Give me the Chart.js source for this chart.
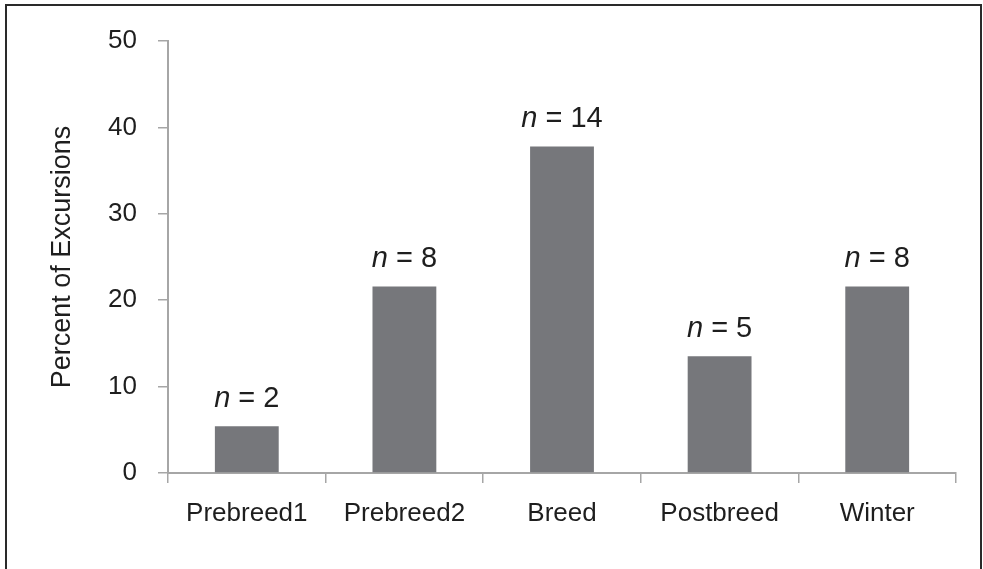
<!DOCTYPE html>
<html>
<head>
<meta charset="utf-8">
<script src="https://cdn.jsdelivr.net/npm/chart.js@4.4.1/dist/chart.umd.min.js"></script>
<style>
  html, body { margin: 0; padding: 0; background: #fff; }
  #wrap { width: 983px; height: 569px; position: relative; }
</style>
</head>
<body>
<div id="wrap"><canvas id="c" width="983" height="569"></canvas></div>
<script>
const categories = ["Prebreed1", "Prebreed2", "Breed", "Postbreed", "Winter"];
const percentValues = [5.4, 21.6, 37.8, 13.5, 21.6];
const sampleSizes = [2, 8, 14, 5, 8];
const yTicks = [0, 10, 20, 30, 40, 50];

const FONT = "'Liberation Sans', Arial, sans-serif";
const AXIS_GRAY = "#a6a6a6";
const TEXT = "#1e1e1e";

const nLabels = {
  id: "nLabels",
  afterDatasetsDraw(chart) {
    const ctx = chart.ctx;
    const meta = chart.getDatasetMeta(0);
    ctx.save();
    ctx.fillStyle = TEXT;
    ctx.textBaseline = "alphabetic";
    meta.data.forEach((bar, i) => {
      const italic = "italic 29px " + FONT;
      const normal = "29px " + FONT;
      const a = "n";
      const b = " = " + sampleSizes[i];
      ctx.font = italic;
      const wa = ctx.measureText(a).width;
      ctx.font = normal;
      const wb = ctx.measureText(b).width;
      const x0 = bar.x - (wa + wb) / 2;
      const y = bar.y - 19;
      ctx.font = italic;
      ctx.textAlign = "left";
      ctx.fillText(a, x0, y);
      ctx.font = normal;
      ctx.fillText(b, x0 + wa, y);
    });
    ctx.restore();
  }
};

const frame = {
  id: "frame",
  afterDraw(chart) {
    const ctx = chart.ctx;
    ctx.save();
    ctx.strokeStyle = "#2a2a2a";
    ctx.lineWidth = 2;
    ctx.beginPath();
    ctx.moveTo(6, 569);
    ctx.lineTo(6, 5);
    ctx.lineTo(981, 5);
    ctx.lineTo(981, 569);
    ctx.stroke();
    ctx.restore();
  }
};

new Chart(document.getElementById("c"), {
  type: "bar",
  data: {
    labels: categories,
    datasets: [{
      data: percentValues,
      backgroundColor: "#76777b",
      borderWidth: 0,
      categoryPercentage: 1.0,
      barPercentage: 0.405
    }]
  },
  options: {
    responsive: false,
    devicePixelRatio: 1,
    animation: false,
    layout: { padding: { left: 46, right: 27, top: 41, bottom: 0 } },
    plugins: { legend: { display: false }, tooltip: { enabled: false } },
    scales: {
      x: {
        grid: {
          display: true, drawOnChartArea: false, drawTicks: true,
          tickLength: 10, color: AXIS_GRAY, lineWidth: 1.5, offset: true
        },
        border: { display: true, color: AXIS_GRAY, width: 2 },
        ticks: { font: { family: FONT, size: 26 }, color: TEXT, padding: 15, maxRotation: 0 },
        afterFit(scale) { scale.height = 96; }
      },
      y: {
        min: 0, max: 50,
        afterBuildTicks(scale) { scale.ticks = yTicks.map(v => ({ value: v })); },
        grid: {
          display: true, drawOnChartArea: false, drawTicks: true,
          tickLength: 10, color: AXIS_GRAY, lineWidth: 1.5
        },
        border: { display: true, color: AXIS_GRAY, width: 2 },
        ticks: { font: { family: FONT, size: 26 }, color: TEXT, padding: 21 },
        title: {
          display: true, text: "Percent of Excursions",
          font: { family: FONT, size: 27 }, color: TEXT, padding: 0
        },
        afterFit(scale) { scale.width = 122; }
      }
    }
  },
  plugins: [nLabels, frame]
});
</script>
</body>
</html>
